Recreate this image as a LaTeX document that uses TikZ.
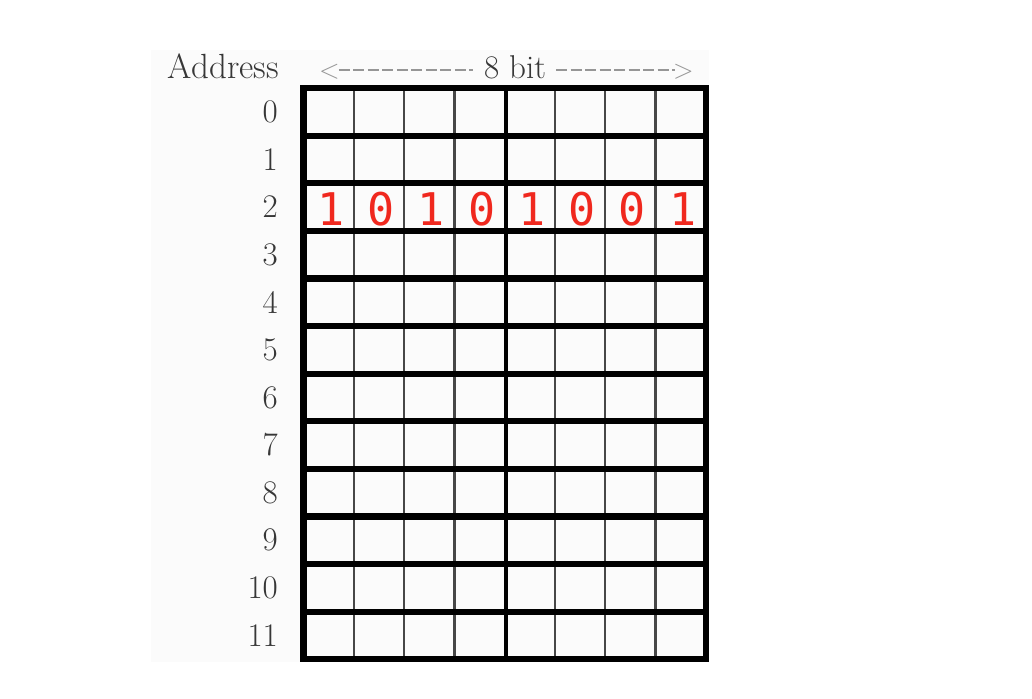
\documentclass[tikz,border=0pt]{standalone}
\usepackage{fontspec}
\newfontfamily\bitfont{DejaVu Sans Mono}
\definecolor{bitred}{RGB}{240,40,30}
\definecolor{labgray}{RGB}{55,55,55}
\definecolor{dashgray}{RGB}{150,150,150}
\definecolor{bggray}{RGB}{251,251,251}
\begin{document}
\begin{tikzpicture}[x=1pt,y=-1pt,
  cell/.style={draw=black!72,line width=2.3pt,minimum width=50.3pt,minimum height=47.6pt,inner sep=0pt},
  rowbox/.style={draw=black,line width=6.2pt,minimum width=402.5pt,minimum height=47.6pt,inner sep=0pt},
  addr/.style={text=labgray,font=\fontsize{33}{38}\selectfont,inner sep=0pt},
  hdr/.style={text=labgray,font=\fontsize{33}{38}\selectfont,inner sep=0pt},
  arrowtxt/.style={text=dashgray,font=\fontsize{27}{30}\selectfont,inner sep=0pt},
  dashline/.style={draw=dashgray,line width=1.8pt,dash pattern=on 11pt off 3.5pt},
  bit/.style={text=bitred,font=\bitfont\fontsize{45}{50}\selectfont,inner sep=0pt}]
\useasboundingbox (0,0) rectangle (1032,698);
\fill[bggray] (151,50) rectangle (709,662);
% header
\node[hdr,anchor=base east,font=\fontsize{35}{40}\selectfont\addfontfeatures{LetterSpace=6}] (addrhead) at (279,79) {Address};
\node[arrowtxt,anchor=base west] (lt) at (319,79) {<};
\node[hdr,anchor=base] (bits) at (515,79) {8 bit};
\node[arrowtxt,anchor=base east] (gt) at (694,79) {>};
\coordinate (dashy) at (0,70);
\draw[dashline] ([xshift=-1pt]lt.east |- dashy) -- ([xshift=-11pt]bits.west |- dashy);
\draw[dashline] ([xshift=10pt]bits.east |- dashy) -- ([xshift=2pt]gt.west |- dashy);
% grid
\foreach \r in {0,...,11}{
  \foreach \c in {0,...,7}{
    \node[cell] (c-\r-\c) at ({303.5+50.3*(\c+0.5)},{88+47.6*(\r+0.5)}) {};
  }
  \node[rowbox] (r\r) at (504.75,{88+47.6*(\r+0.5)}) {};
  \draw[line width=4.3pt] (c-\r-3.north east) -- (c-\r-3.south east);
  \node[addr,anchor=east] (a\r) at (278,{88+47.6*(\r+0.5)}) {\r};
}
% bits in row 2
\foreach \c/\v in {0/1,1/0,2/1,3/0,4/1,5/0,6/0,7/1}{
  \node[bit] (b\c) at ([xshift=2pt,yshift=-2pt]c-2-\c.center) {\v};
}
\end{tikzpicture}
\end{document}
